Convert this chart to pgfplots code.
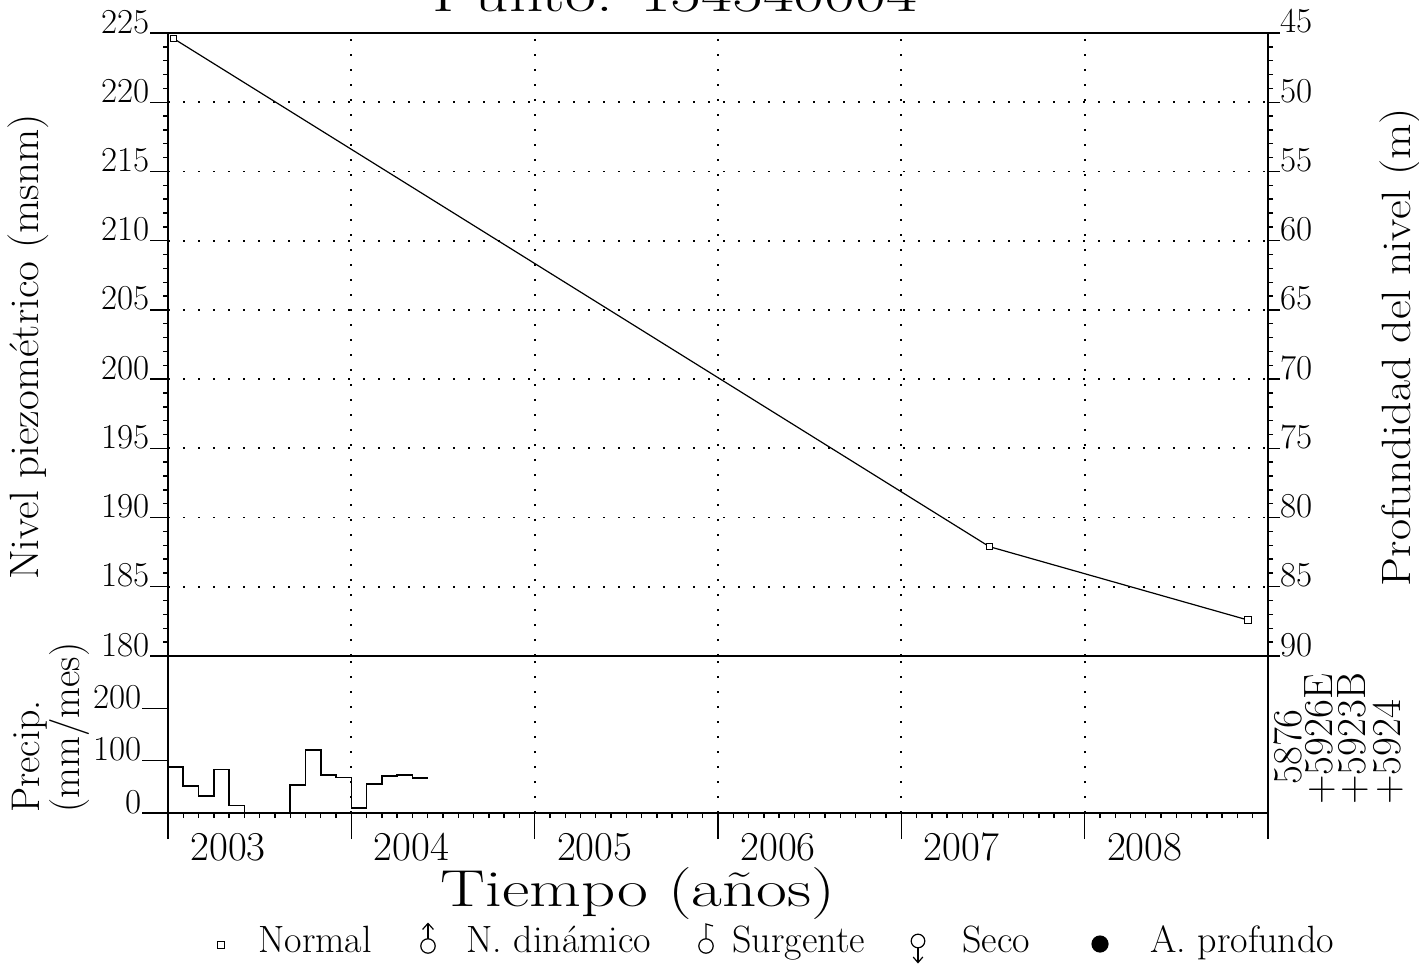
\documentclass[border=0pt]{standalone}
\usepackage{pgfplots}
\pgfplotsset{compat=1.18}
\begin{document}
\begin{tikzpicture}[x=1pt,y=1pt]
\path[use as bounding box] (0,0) rectangle (709.5,482.5);
\pgfplotsset{
  gridd/.style={black, line width=0.9pt, dash pattern=on 0.9pt off 6.6pt},
  /pgf/number format/assume math mode=true,
  tick style={black, line width=0.7pt},
  tick align=outside,
  minor tick length=2.5pt,
}
% ---------- upper panel ----------
\begin{axis}[
  at={(84pt,154.5pt)}, anchor=south west, scale only axis,
  width=550pt, height=311.5pt,
  xmin=2003, xmax=2009, ymin=180, ymax=225,
  axis x line*=top, axis y line*=left,
  axis line style={-, line width=1.4pt},
  xtick={2004,2005,2006,2007,2008}, xticklabels={}, xmajorticks=false,
  xmajorgrids, ymajorgrids,
  ytick={180,185,...,225}, minor ytick={180,...,225},
  major grid style={gridd},
  major tick length=9pt,
  yticklabel style={font=\fontsize{17.5}{17.5}\selectfont, anchor=base east, inner sep=0pt},
  clip=false,
]
\addplot[black, line width=0.6pt, mark=square*, mark size=1.6pt,
  mark options={fill=white, line width=0.5pt}] coordinates {
  (2003.03,224.6) (2007.48,187.9) (2008.89,182.6)};
\end{axis}
% ---------- right axis (depth) ----------
\begin{axis}[
  at={(84pt,76pt)}, anchor=south west, scale only axis,
  width=550pt, height=390pt,
  xmin=2003, xmax=2009, ymin=45, ymax=101.34, y dir=reverse,
  axis x line=none, axis y line*=right,
  axis line style={-, line width=1.4pt},
  ytick={45,50,...,90}, minor ytick={45,...,90},
  major tick length=6pt,
  yticklabel style={font=\fontsize{17.5}{17.5}\selectfont, anchor=base west, inner sep=0pt},
]
\addplot[draw=none] coordinates {(2003,45)};
\end{axis}
% ---------- lower panel (precipitation) ----------
\begin{axis}[
  at={(84pt,76pt)}, anchor=south west, scale only axis,
  width=550pt, height=78.5pt,
  xmin=2003, xmax=2009, ymin=0, ymax=300,
  axis x line*=bottom, axis y line*=left,
  axis line style={-, line width=1.4pt},
  xtick={2003,2004,2005,2006,2007,2008,2009},
  xticklabels={2003,2004,2005,2006,2007,2008,{}},
  minor x tick num=11,
  major tick length=13pt,
  xmajorgrids, major grid style={gridd},
  ytick={0,100,200},
  xticklabel style={font=\fontsize{20.5}{20.5}\selectfont, anchor=base, inner sep=0pt, xshift=30pt, yshift=-10.5pt},
  yticklabel style={font=\fontsize{17.5}{17.5}\selectfont, anchor=base east, inner sep=0pt},
  clip=false,
]
\addplot[const plot, black, line width=0.8pt] coordinates {
  (2003.0000,88) (2003.0833,52) (2003.1667,33) (2003.2500,83)
  (2003.3333,14) (2003.4167,0) (2003.5000,0) (2003.5833,0)
  (2003.6667,54) (2003.7500,120) (2003.8333,73) (2003.9167,68)
  (2004.0000,10) (2004.0833,55) (2004.1667,71) (2004.2500,73)
  (2004.3333,67) (2004.4167,67)};
\draw[black, line width=0.6pt] (rel axis cs:0,1) -- (rel axis cs:1,1);
\end{axis}
% ---------- texts ----------
\node[anchor=base, inner sep=0pt, xscale=1.29, font=\fontsize{26}{26}\selectfont] at (337.5,476.5) {Punto: 154540004};
\node[rotate=90, xscale=1.05, font=\fontsize{20.5}{20.5}\selectfont] at (14,309) {Nivel piezométrico (msnm)};
\node[rotate=90, xscale=1.12, font=\fontsize{20.5}{20.5}\selectfont] at (700,309) {Profundidad del nivel (m)};
\node[rotate=90, anchor=west, inner sep=0pt, font=\fontsize{20}{20}\selectfont] at (15,76) {Precip.};
\node[rotate=90, anchor=west, inner sep=0pt, font=\fontsize{20}{20}\selectfont] at (35,76) {(mm/mes)};
\node[anchor=base, inner sep=0pt, xscale=1.29, font=\fontsize{26}{26}\selectfont] at (319,29.5) {Tiempo (años)};
\begin{scope}[font=\fontsize{20.5}{20.5}\selectfont, inner sep=0pt]
\node[rotate=90, anchor=west] at (644,90) {5876};
\node[rotate=90, anchor=west] at (660,80) {+5926E};
\node[rotate=90, anchor=west] at (676.5,80) {+5923B};
\node[rotate=90, anchor=west] at (694,80) {+5924};
\end{scope}
% legend
\begin{scope}[font=\fontsize{19}{19}\selectfont, inner sep=0pt]
\draw[line width=0.6pt] (108.7,8.2) rectangle (112.3,11.8);
\node[anchor=base west] at (129,6.5) {Normal};
\draw[line width=0.6pt] (214,9.5) circle (3.6pt);
\draw[line width=0.6pt] (214,13.1) -- (214,20.5);
\draw[line width=0.6pt] (211.3,17.8) -- (214,20.8) -- (216.7,17.8);
\node[anchor=base west] at (233,6.5) {N. dinámico};
\draw[line width=0.6pt] (353,9.5) circle (3.6pt);
\draw[line width=0.6pt] (353,13.1) -- (353,20.5) -- (356.5,19.5);
\node[anchor=base west] at (366,6.5) {Surgente};
\draw[line width=0.6pt] (459,12) circle (3.4pt);
\draw[line width=0.6pt] (459,8.6) -- (459,1.5);
\draw[line width=0.6pt] (456.6,4) -- (459,1.2) -- (461.4,4);
\node[anchor=base west] at (481,6.5) {Seco};
\fill (550,10.5) circle (4.3pt);
\node[anchor=base west] at (575,6.5) {A. profundo};
\end{scope}
\end{tikzpicture}
\end{document}
